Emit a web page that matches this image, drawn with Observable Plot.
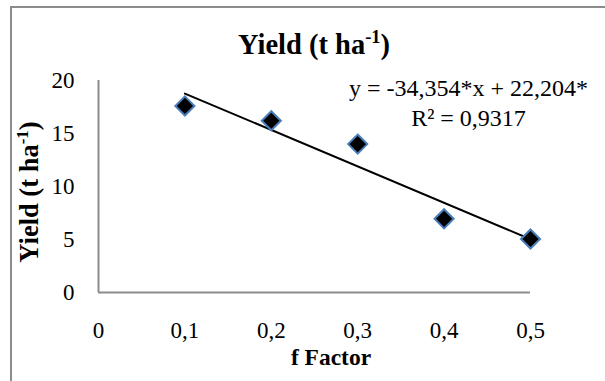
<!DOCTYPE html>
<html><head><meta charset="utf-8">
<script src="https://cdn.jsdelivr.net/npm/d3@7"></script>
<script src="https://cdn.jsdelivr.net/npm/@observablehq/plot@0.6"></script>
<style>
body{margin:0;overflow:hidden;background:#fff;}
#wrap{position:relative;width:605px;height:381px;overflow:hidden;}
#border{position:absolute;left:10px;top:6px;width:700px;height:500px;border:2px solid #8c8c8c;}
#wrap svg{position:absolute;left:0;top:0;}
#wrap svg, #wrap svg text{font-family:'Liberation Serif','Times New Roman',serif !important;}
</style></head><body><div id="wrap"><div id="border"></div></div>
<script>
const fFactor = [0.1, 0.2, 0.3, 0.4, 0.5];
const yieldValues = [17.6, 16.2, 14.0, 6.95, 5.05];
const xTicks = [0, 0.1, 0.2, 0.3, 0.4, 0.5];
const yTicks = [0, 5, 10, 15, 20];
const slope = -34.354, intercept = 22.204;
const equationLines = ["y = -34,354*x + 22,204*", "R² = 0,9317"];
const titleParts = ["Yield (t ha", "-1", ")"];
const xLabel = "f Factor";
const yLabelParts = ["Yield (t ha", "-1", ")"];

const FONT = "'Liberation Serif', 'Times New Roman', serif";
const points = fFactor.map((x, i) => ({x, y: yieldValues[i]}));
const xExt = d3.extent(fFactor);
const trend = xExt.map(x => ({x, y: intercept + slope * x}));

const chart = Plot.plot({
  width: 605, height: 381,
  marginLeft: 98, marginRight: 75, marginTop: 80, marginBottom: 89,
  style: {fontFamily: FONT, fontSize: "23px", color: "#000", background: "transparent", overflow: "visible"},
  x: {domain: [0, 0.5], ticks: xTicks, tickFormat: d => String(d).replace(".", ","), tickSize: 0, tickPadding: 29, label: null},
  y: {domain: [0, 20], ticks: yTicks, tickSize: 0, tickPadding: 24, label: null},
  marks: [
    Plot.ruleY([0], {stroke: "#8c8c8c", strokeWidth: 2}),
    Plot.ruleX([0], {stroke: "#8c8c8c", strokeWidth: 2}),
    Plot.line(trend, {x: "x", y: "y", stroke: "#000", strokeWidth: 2}),
    Plot.dot(points, {x: "x", y: "y", symbol: "diamond2", r: 8.6, fill: "#000", stroke: "#4a7ebb", strokeWidth: 2}),
    Plot.text([equationLines.join("\n")], {frameAnchor: "top-right", dx: -62, dy: 45, text: d => d, textAnchor: "middle", lineAnchor: "bottom", lineHeight: 1.25, fontSize: 24, fill: "#000"})
  ]
});
document.getElementById("wrap").appendChild(chart);

const svg = d3.select(chart);
const sx = chart.scale("x"), sy = chart.scale("y");
const cx = (sx.range[0] + sx.range[1]) / 2;
const cy = (sy.range[0] + sy.range[1]) / 2;

function supText(sel, parts, supSize, shift) {
  sel.append("tspan").text(parts[0]);
  sel.append("tspan").attr("dy", -shift).attr("font-size", supSize).text(parts[1]);
  sel.append("tspan").attr("dy", shift).text(parts[2]);
}

const title = svg.append("text")
  .attr("x", cx).attr("y", 54)
  .attr("text-anchor", "middle").attr("font-weight", "bold")
  .attr("font-size", 28.5).attr("font-family", FONT).attr("fill", "#000");
supText(title, titleParts, 18.5, 11);

svg.append("text")
  .attr("x", cx + 17).attr("y", 365)
  .attr("text-anchor", "middle").attr("font-weight", "bold")
  .attr("font-size", 23.5).attr("font-family", FONT).attr("fill", "#000")
  .text(xLabel);

const ylab = svg.append("text")
  .attr("transform", `translate(38,${cy + 6}) rotate(-90)`)
  .attr("text-anchor", "middle").attr("font-weight", "bold")
  .attr("font-size", 26.5).attr("font-family", FONT).attr("fill", "#000");
supText(ylab, yLabelParts, 17, 10.5);
</script></body></html>
